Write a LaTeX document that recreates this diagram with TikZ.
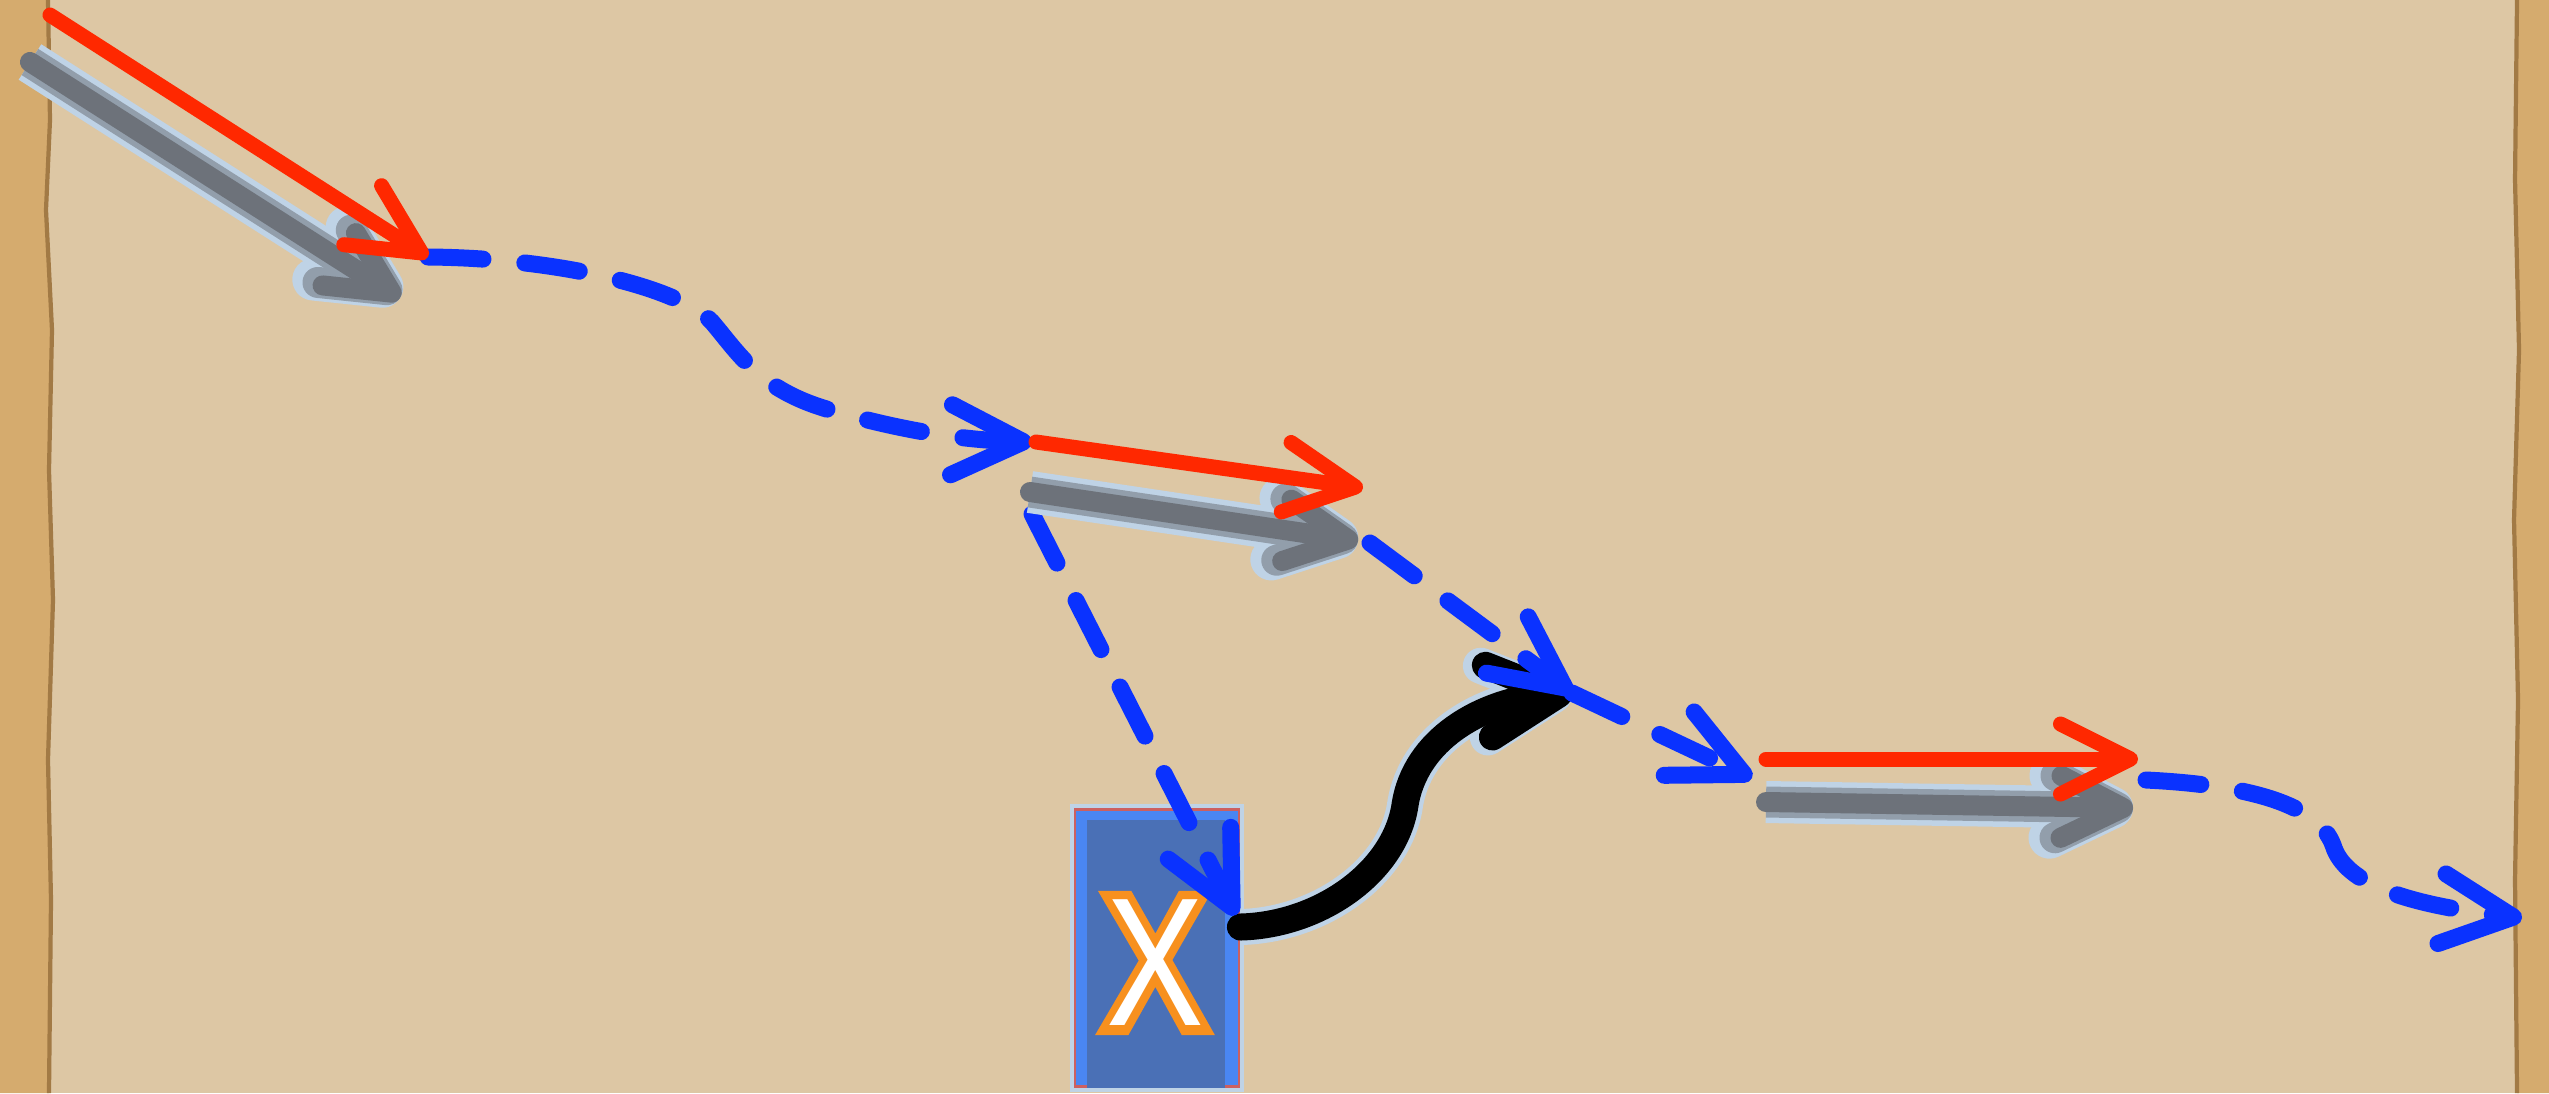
\documentclass[tikz,border=0pt]{standalone}
\usepackage{fontspec}
\usepackage{xcolor}
\usepackage{graphicx}
\usepackage{tikz}
\usetikzlibrary{arrows.meta,positioning,calc}
\newfontfamily\xletter{Liberation Sans}
\newfontfamily\xletterthick[FakeBold=10]{Liberation Sans}
\definecolor{paper}{HTML}{DDC7A4}
\definecolor{paperedge}{HTML}{D5AB6E}
\definecolor{tornline}{HTML}{A27A45}
\definecolor{penblue}{HTML}{0A32FF}
\definecolor{penred}{HTML}{FF2800}
\definecolor{shadegray}{HTML}{6D727A}
\definecolor{halo}{HTML}{BFD3E6}
\definecolor{boxblue}{HTML}{4A86F2}
\definecolor{boxinner}{HTML}{4A70B6}
\definecolor{boxline}{HTML}{CC6060}
\definecolor{xorange}{HTML}{F7901E}

\begin{document}
\begin{tikzpicture}[
    x=0.01cm,y=-0.01cm,
    redpen/.style={draw=penred,line width=0.15cm,line cap=round,
      -{Straight Barb[length=0.7cm,width=0.7cm,round]}},
    shadowpen/.style={draw=shadegray,line width=0.2cm,line cap=round,
      -{Straight Barb[length=0.62cm,width=0.62cm,round]},
      preaction={draw=halo,line width=0.42cm},
      preaction={draw=shadegray!55!halo,line width=0.31cm}},
    bluepen/.style={draw=penblue,line width=0.17cm,line cap=round,
      dash pattern=on 0.55cm off 0.42cm,
      -{Straight Barb[length=0.72cm,width=0.7cm,round]}},
    blackpen/.style={draw=black,line width=0.27cm,line cap=round,
      -{Straight Barb[length=0.7cm,width=0.72cm,round]},
      preaction={draw=halo,line width=0.36cm}},
    xbox/.style={draw=boxline,fill=boxblue,line width=0.8pt,inner sep=0pt,
      minimum width=1.64cm,minimum height=2.77cm}
  ]
    \useasboundingbox (0,0) rectangle (2549,1093);
    % paper
    \fill[paper] (0,0) rectangle (2549,1093);
    \fill[paperedge] (0,0) -- (48,0) -- (50,120) -- (46,210) -- (52,330) -- (49,470)
      -- (53,600) -- (48,760) -- (51,900) -- (49,1093) -- (0,1093) -- cycle;
    \draw[tornline,line width=1.2pt] (48,0) -- (50,120) -- (46,210) -- (52,330) -- (49,470)
      -- (53,600) -- (48,760) -- (51,900) -- (49,1093);
    \fill[paperedge] (2549,0) -- (2517,0) -- (2515,180) -- (2519,350) -- (2514,520)
      -- (2518,700) -- (2515,880) -- (2517,1093) -- (2549,1093) -- cycle;
    \draw[tornline,line width=1.2pt] (2517,0) -- (2515,180) -- (2519,350) -- (2514,520)
      -- (2518,700) -- (2515,880) -- (2517,1093);

    % points
    \coordinate (r1a) at (50,15);     \coordinate (r1b) at (428,257);
    \coordinate (g1a) at (30,62);     \coordinate (g1b) at (400,298);
    \coordinate (turn1) at (1032,442);
    \coordinate (r2a) at (1036,442);  \coordinate (r2b) at (1363,488);
    \coordinate (g2a) at (1030,492);  \coordinate (g2b) at (1358,541);
    \coordinate (turn2) at (1370,543);
    \coordinate (hub) at (1572,693);
    \coordinate (b3end) at (1752,778);
    \coordinate (b4a) at (1032,514);  \coordinate (b4b) at (1236,915);
    \coordinate (r3a) at (1766,759);  \coordinate (r3b) at (2138,759);
    \coordinate (g3a) at (1766,802);  \coordinate (g3b) at (2133,808);
    \coordinate (b5a) at (2146,780);  \coordinate (b5b) at (2522,918);

    % box with X
    \node[xbox,preaction={draw=halo,line width=0.1cm}] (xbox) at (1157,948) {};
    \fill[boxinner] ($(xbox.south west)+(13,0)$) rectangle ($(xbox.north east)+(-15,12)$);
    \node[text=xorange,inner sep=0pt] (xmark) at (1155,963)
      {\scalebox{0.8}[1]{\xletterthick\fontsize{52}{52}\selectfont X}};
    \node[text=white,inner sep=0pt] (xfill) at (xmark)
      {\scalebox{0.8}[1]{\xletter\fontsize{52}{52}\selectfont X}};
    \coordinate (xout) at ($(xbox.east)+(0,-21)$);

    % black connector
    \draw[blackpen] (xout) .. controls (1320,925) and (1395,872) .. (1405,805)
      .. controls (1415,740) and (1480,702) .. (hub);

    % blue dashed paths
    \draw[bluepen] (r1b) .. controls (560,258) and (680,288) .. (712,322)
      .. controls (740,355) and (760,390) .. (830,410)
      .. controls (900,430) and (960,440) .. (turn1);
    \draw[bluepen] (turn2) -- (hub);
    \draw[bluepen] (hub) -- (b3end);
    \draw[bluepen] (b4a) -- (b4b);
    \draw[bluepen] (b5a) .. controls (2250,785) and (2318,805) .. (2333,845)
      .. controls (2345,885) and (2410,905) .. (b5b);

    % shadows
    \draw[shadowpen] (g1a) -- (g1b);
    \draw[shadowpen] (g2a) -- (g2b);
    \draw[shadowpen] (g3a) -- (g3b);

    % red arrows
    \draw[redpen] (r1a) -- (r1b);
    \draw[redpen] (r2a) -- (r2b);
    \draw[redpen] (r3a) -- (r3b);
  \end{tikzpicture}
\end{document}
